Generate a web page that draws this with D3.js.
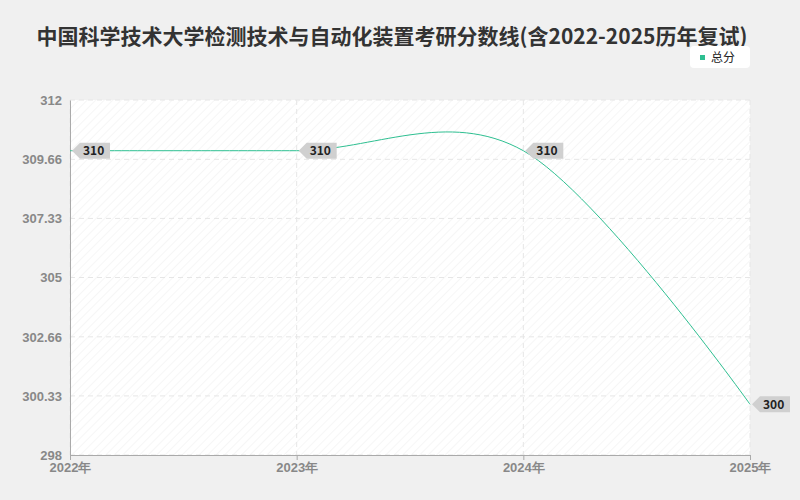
<!DOCTYPE html><html><head><meta charset="utf-8"><script src="https://cdn.jsdelivr.net/npm/d3@7"></script>
<style>body{margin:0;background:#f0f0f0}svg{font-family:"Noto Sans CJK SC","Noto Sans",sans-serif}</style></head><body>
<svg id="c" width="800" height="500"></svg>
<script>
const years=["2022年","2023年","2024年","2025年"];
const scores=[310,310,310,300];
const ticks=[298,300.33,302.66,305,307.33,309.66,312];
const title="中国科学技术大学检测技术与自动化装置考研分数线(含2022-2025历年复试)";
const svg=d3.select("#c");
svg.append("rect").attr("width",800).attr("height",500).attr("fill","#f0f0f0");
const defs=svg.append("defs");
const p=defs.append("pattern").attr("id","h").attr("width",6).attr("height",6).attr("patternUnits","userSpaceOnUse").attr("patternTransform","rotate(45)");
p.append("rect").attr("width",6).attr("height",6).attr("fill","#fff");
p.append("line").attr("x1",0).attr("y1",0).attr("x2",0).attr("y2",6).attr("stroke","#f6f6f6").attr("stroke-width",2);
const L=70,R=750,T=100,B=455;
svg.append("rect").attr("x",L).attr("y",T).attr("width",R-L).attr("height",B-T).attr("fill","url(#h)");
const x=d3.scalePoint().domain(years).range([L,R]);
const y=d3.scaleLinear().domain([298,312]).range([B,T]);
ticks.forEach(t=>{svg.append("line").attr("x1",L).attr("x2",R).attr("y1",y(t)).attr("y2",y(t)).attr("stroke","#e6e6e6").attr("stroke-dasharray","5,4");});
years.forEach(d=>{svg.append("line").attr("x1",x(d)).attr("x2",x(d)).attr("y1",T).attr("y2",B).attr("stroke","#e6e6e6").attr("stroke-dasharray","5,4");});
const ya=svg.append("g").attr("transform",`translate(${L},0)`).call(d3.axisLeft(y).tickValues(ticks).tickFormat(d=>d).tickSize(0).tickPadding(8));
const xa=svg.append("g").attr("transform",`translate(0,${B})`).call(d3.axisBottom(x).tickSize(5).tickPadding(3));
[ya,xa].forEach(a=>{a.selectAll("text").attr("fill","#888").attr("font-size",13).attr("font-weight","bold");a.selectAll("path,line").attr("stroke","#aaa");});
const line=d3.line().x((d,i)=>x(years[i])).y(d=>y(d)).curve(d3.curveCardinal.tension(0));
svg.append("path").attr("d",line(scores)).attr("fill","none").attr("stroke","#2ebf91").attr("stroke-width",1);
scores.forEach((v,i)=>{const cx=x(years[i]),cy=y(v);const g=svg.append("g").attr("transform",`translate(${cx+2},${cy})`);
g.append("path").attr("d","M0,0 L8,-8 L38,-8 L38,8 L8,8 Z").attr("fill","#d0d0d0");
g.append("text").attr("x",11).attr("y",4.5).attr("font-size",12).attr("font-weight","bold").attr("fill","#222").text(v);});
svg.append("text").attr("x",392).attr("y",44).attr("text-anchor","middle").attr("font-size",21).attr("font-weight","bold").attr("fill","#333").text(title);
const lg=svg.append("g").attr("transform","translate(690,46)");
lg.append("rect").attr("width",60).attr("height",22).attr("rx",4).attr("fill","#fff");
lg.append("rect").attr("x",10).attr("y",9).attr("width",5).attr("height",5).attr("fill","#2ebf91");
lg.append("text").attr("x",21).attr("y",16).attr("font-size",12).attr("fill","#222").text("总分");
</script></body></html>
